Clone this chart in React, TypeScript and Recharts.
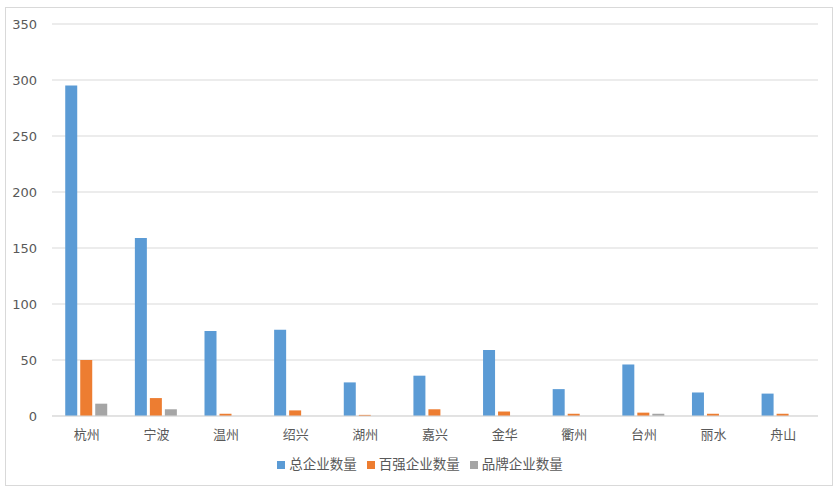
import { BarChart, Bar, XAxis, YAxis, CartesianGrid, Legend } from 'recharts';

// 浙江各市企业数量
const cities = ['杭州', '宁波', '温州', '绍兴', '湖州', '嘉兴', '金华', '衢州', '台州', '丽水', '舟山'];
const totalCount = [295, 159, 76, 77, 30, 36, 59, 24, 46, 21, 20];
const top100Count = [50, 16, 2, 5, 1, 6, 4, 2, 3, 2, 2];
const brandCount = [11, 6, 0, 0, 0, 0, 0, 0, 2, 0, 0];
const yTicks = [0, 50, 100, 150, 200, 250, 300, 350];
const seriesNames = ['总企业数量', '百强企业数量', '品牌企业数量'];

const data = cities.map((name, i) => ({
  name,
  total: totalCount[i],
  top100: top100Count[i],
  brand: brandCount[i],
}));

const labelColor = '#595959';
const gridColor = '#D9D9D9';

export default function App() {
  return (
    <div style={{ position: 'absolute', left: 0, top: 0, width: 840, height: 491, background: '#fff' }}>
      <div
        style={{
          position: 'absolute',
          left: 5,
          top: 7,
          width: 826,
          height: 477,
          border: `1px solid ${gridColor}`,
        }}
      />
      <div style={{ position: 'absolute', left: 0, top: 0 }}>
        <BarChart
          width={840}
          height={491}
          data={data}
          margin={{ top: 24, right: 22, left: 0, bottom: 18 }}
          barCategoryGap="19%"
          barGap={3}
        >
          <CartesianGrid vertical={false} stroke={gridColor} />
          <XAxis
            dataKey="name"
            height={37}
            tickLine={false}
            axisLine={{ stroke: gridColor }}
            tickMargin={8}
            tick={{ fill: labelColor, fontSize: 13, fontFamily: '"Noto Sans CJK SC"' }}
            interval={0}
          />
          <YAxis
            width={52}
            domain={[0, 350]}
            ticks={yTicks}
            tickLine={false}
            axisLine={false}
            tickMargin={9}
            tick={{ fill: labelColor, fontSize: 13, fontFamily: '"DejaVu Sans"' }}
          />
          <Legend
            verticalAlign="bottom"
            iconType="square"
            iconSize={8}
            itemSorter={(item) => seriesNames.indexOf(String(item.value))}
            wrapperStyle={{ fontSize: 13.5, fontFamily: '"Noto Sans CJK SC"', left: 16 }}
            formatter={(value) => <span style={{ color: labelColor }}>{value}</span>}
          />
          <Bar dataKey="total" name="总企业数量" fill="#5B9BD5" isAnimationActive={false} />
          <Bar dataKey="top100" name="百强企业数量" fill="#ED7D31" isAnimationActive={false} />
          <Bar dataKey="brand" name="品牌企业数量" fill="#A5A5A5" isAnimationActive={false} />
        </BarChart>
      </div>
    </div>
  );
}
